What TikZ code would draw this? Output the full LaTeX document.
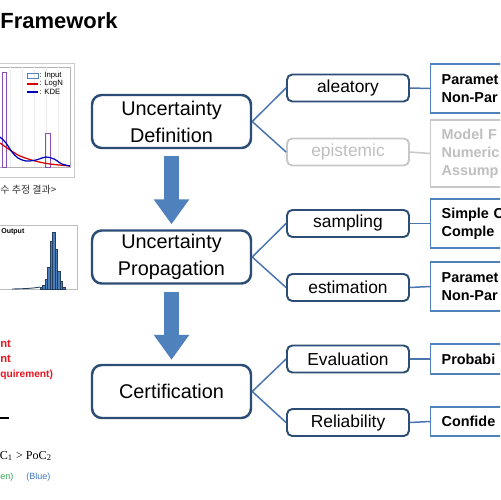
\documentclass[tikz,border=0pt]{standalone}
\usepackage{fontspec}
\setmainfont{Liberation Sans}
\newfontfamily\serf{Liberation Serif}
\newfontfamily\krfont{Noto Sans CJK KR}
\usetikzlibrary{arrows.meta,calc}
\definecolor{navy}{HTML}{2C4D75}
\definecolor{rblue}{HTML}{4F81BD}
\definecolor{connblue}{HTML}{4A76B0}
\definecolor{arrowblue}{HTML}{4F81BD}
\definecolor{grayline}{HTML}{C8C8C8}
\definecolor{graytext}{HTML}{BFBFBF}
\definecolor{redtext}{HTML}{E8141E}
\definecolor{greentext}{HTML}{2FA84F}
\definecolor{bluetext}{HTML}{3F79C0}
\definecolor{histpurple}{HTML}{8A4FB0}
\definecolor{barblue}{HTML}{4A7EBB}
\tikzset{
  mainbox/.style={draw=navy, line width=1.4pt, rounded corners=5.5pt, fill=white,
    minimum width=3.18cm, minimum height=1.06cm, align=center, inner sep=0pt,
    font=\fontsize{11.3}{15.3}\selectfont},
  subbox/.style={draw=navy, line width=1.1pt, rounded corners=3pt, fill=white,
    minimum width=2.44cm, minimum height=0.54cm, inner sep=0pt,
    font=\fontsize{9.9}{12}\selectfont},
  graybox/.style={subbox, draw=grayline, text=graytext},
  rbox/.style={draw=rblue, line width=0.75pt, anchor=west, text width=2.6cm,
    inner xsep=0.22cm, inner ysep=0pt, align=left,
    font=\bfseries\fontsize{8.2}{10.2}\selectfont},
  rgray/.style={rbox, draw=grayline, text=graytext},
  conn/.style={draw=connblue, line width=0.85pt},
  bigarrow/.style={draw=arrowblue, line width=9.07pt,
    -{Triangle[width=19.3pt,length=14.2pt]}},
  redlbl/.style={anchor=west, inner sep=0pt, text=redtext,
    font=\bfseries\fontsize{6.4}{7}\selectfont},
  legendlbl/.style={anchor=west, inner sep=0pt, font=\fontsize{4.4}{5}\selectfont},
}
\begin{document}
\begin{tikzpicture}[x=0.02cm,y=-0.02cm]
\useasboundingbox (0,0) rectangle (500,500);
\clip (0,0) rectangle (500,500);
\fill[white] (0,0) rectangle (500,500);

% title
\node[anchor=base west, inner sep=0pt, font=\bfseries\fontsize{12.5}{14}\selectfont] (title) at (0,29) {Framework};

% ---- left plot 1 ----
\draw[gray!40, line width=0.3pt] (-5,63) rectangle (74,177);
\draw[gray!60, line width=0.3pt] (-5,67) rectangle (70,167);
\foreach \gx in {10,22,34,46,58} \draw[gray!15, line width=0.2pt] (\gx,67) -- (\gx,167);
\draw[histpurple, line width=0.4pt] (2,72) rectangle (6,167);
\draw[histpurple, line width=0.4pt] (45,133) rectangle (50,167);
\draw[red!85!black, line width=0.7pt] plot[smooth] coordinates {(0,143) (10,150) (20,156) (35,161) (50,164) (70,166)};
\draw[blue!75!black, line width=0.7pt] plot[smooth] coordinates {(0,137) (6,143) (12,152) (18,158) (26,161) (36,160) (46,157) (54,159) (62,164) (70,166)};
\draw[rblue, line width=0.5pt] (27,73) rectangle (38,78);
\draw[red!85!black, line width=1pt] (27,84) -- (38,84);
\draw[blue!75!black, line width=1pt] (27,92) -- (38,92);
\node[legendlbl] (lg1) at (39,75.5) {: Input};
\node[legendlbl] (lg2) at (39,84) {: LogN};
\node[legendlbl] (lg3) at (39,92) {: KDE};
\node[anchor=west, inner sep=0pt, text=black!80, font=\krfont\fontsize{5.7}{6.5}\selectfont] (cap1) at (0,190) {수 추정 결과>};

% ---- left plot 2 ----
\draw[gray!50, line width=0.3pt] (-2,225) rectangle (77,289);
\node[anchor=west, inner sep=0pt, font=\bfseries\fontsize{4}{5}\selectfont] (outl) at (1,232) {Output};
\draw[barblue!50!black, line width=0.5pt] plot[smooth] coordinates {(12,289) (25,288.6) (35,287.8) (40,287)};
\foreach \bx/\bt in {40/287, 42.5/285, 45/279, 47.5/267, 50/241, 52.5/232, 55/249, 57.5/271, 60/281, 62.5/287}
  \draw[fill=barblue, draw=barblue!50!black, line width=0.2pt] (\bx,289) rectangle (\bx+2.5,\bt);

% red lines of text
\node[redlbl] (rt1) at (0,344) {nt};
\node[redlbl] (rt2) at (0,359) {nt};
\node[redlbl, font=\bfseries\fontsize{5.8}{7}\selectfont] (rt3) at (0,375) {quirement)};
\draw[black, line width=1.1pt] (0,418) -- (9,418);
\node[anchor=west, inner sep=0pt, font=\serf\fontsize{6.9}{8}\selectfont] (poc) at (-0.5,456) {C\textsubscript{1} > PoC\textsubscript{2}};
\node[anchor=west, inner sep=0pt, text=greentext, font=\fontsize{5.1}{6}\selectfont] (gr) at (0,477) {en)};
\node[anchor=west, inner sep=0pt, text=bluetext, font=\fontsize{5.1}{6}\selectfont] (bl) at (26,477) {(Blue)};

% ---- main boxes ----
\node[mainbox] (b1) at (171.5,121.5) {Uncertainty\\Definition};
\node[mainbox] (b2) at (171.5,257) {Uncertainty\\Propagation};
\node[mainbox] (b3) at (171.5,391.5) {Certification};

\draw[bigarrow] ($(b1.south)+(0,7)$) -- ($(b2.north)+(0,-5)$);
\draw[bigarrow] ($(b2.south)+(0,7)$) -- ($(b3.north)+(0,-4)$);

% ---- sub boxes ----
\node[subbox] (s1) at (348,88) {aleatory};
\node[graybox] (s2) at (348,152) {epistemic};
\node[subbox] (s3) at (348,223.5) {sampling};
\node[subbox] (s4) at (348,287.5) {estimation};
\node[subbox] (s5) at (348,359) {Evaluation};
\node[subbox] (s6) at (348,422.5) {Reliability};

% ---- right boxes ----
\node[rbox, minimum height=0.98cm] (r1) at (430,88.5) {Paramet\\Non-Par};
\node[rgray, minimum height=1.34cm] (r2) at (430,153.5) {Model F\\Numeric\\Assump};
\node[rbox, minimum height=0.98cm] (r3) at (430,223.5) {Simple C\\Comple};
\node[rbox, minimum height=0.98cm] (r4) at (430,286.5) {Paramet\\Non-Par};
\node[rbox, minimum height=0.6cm] (r5) at (430,359) {Probabi};
\node[rbox, minimum height=0.58cm] (r6) at (430,421.5) {Confide};

% ---- connectors ----
\draw[conn] (b1.east) -- (s1.west);
\draw[conn] (b1.east) -- (s2.west);
\draw[conn] (b2.east) -- (s3.west);
\draw[conn] (b2.east) -- (s4.west);
\draw[conn] (b3.east) -- (s5.west);
\draw[conn] (b3.east) -- (s6.west);
\draw[conn] (s1.east) -- (r1.west);
\draw[conn, draw=grayline] (s2.east) -- (r2.west);
\draw[conn] (s3.east) -- (r3.west);
\draw[conn] (s4.east) -- (r4.west);
\draw[conn] (s5.east) -- (r5.west);
\draw[conn] (s6.east) -- (r6.west);
\end{tikzpicture}
\end{document}
